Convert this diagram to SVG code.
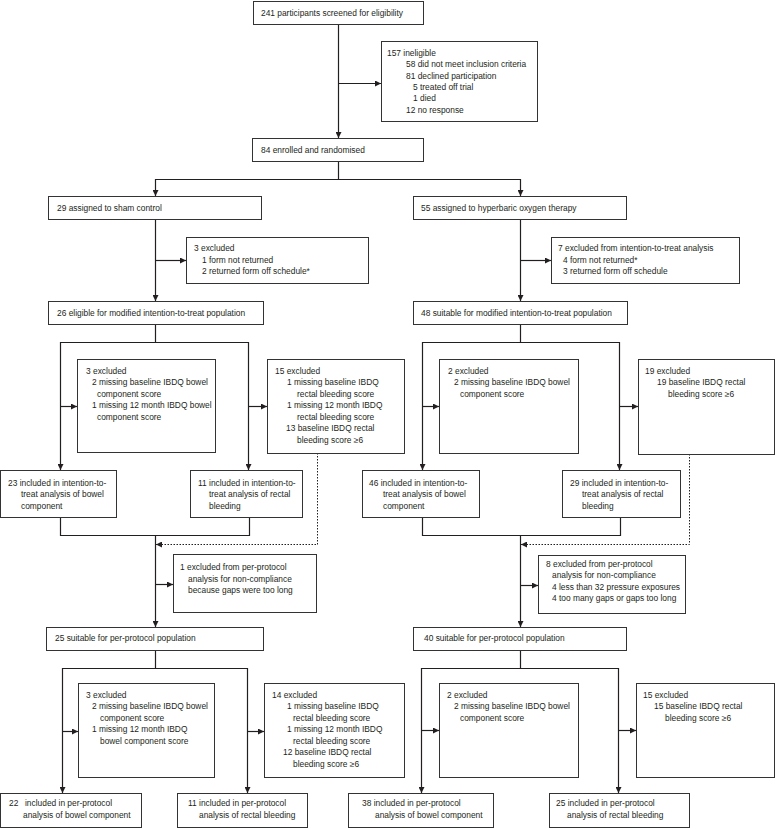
<svg xmlns="http://www.w3.org/2000/svg" width="776" height="829" viewBox="0 0 776 829">
<defs>
<marker id="ah" viewBox="0 0 6 6" refX="6" refY="3" markerWidth="6" markerHeight="6" markerUnits="userSpaceOnUse" orient="auto">
<path d="M0,0 L6,3 L0,6 z" fill="#231f20"/>
</marker>
<style>
.box{fill:#fff;stroke:#333;stroke-width:1}
.t{font-family:"Liberation Sans",Arial,sans-serif;font-size:8.4px;fill:#231f20}
.c{fill:none;stroke:#231f20;stroke-width:1.2}
.a{marker-end:url(#ah)}
.d{stroke-dasharray:1.5 1.5;stroke-width:1}
</style>
</defs>
<rect width="776" height="829" fill="#fff"/>

<g id="connectors">
<path class="c a" d="M338.5,24 V138"/>
<path class="c a" d="M338.5,83.5 H381"/>
<path class="c a" d="M338.5,162 V179.5 H155.5 V196"/>
<path class="c a" d="M338.5,179.5 H520.5 V196"/>
<path class="c a" d="M155.5,220 V301"/>
<path class="c a" d="M155.5,260.5 H186"/>
<path class="c a" d="M520.5,220 V301"/>
<path class="c a" d="M520.5,260.5 H551"/>
<path class="c a" d="M155.5,325 V342.5 H60.5 V470"/>
<path class="c a" d="M155.5,342.5 H248.5 V470"/>
<path class="c a" d="M60.5,406.5 H77"/>
<path class="c a" d="M248.5,406.5 H267"/>
<path class="c a" d="M520.5,325 V342.5 H422.5 V470"/>
<path class="c a" d="M520.5,342.5 H619.5 V470"/>
<path class="c a" d="M422.5,406.5 H439"/>
<path class="c a" d="M619.5,406.5 H638"/>
<path class="c" d="M60.5,518 V535.5 H249.5 V518"/>
<path class="c a" d="M155.5,535.5 V627"/>
<path class="c a" d="M155.5,584.5 H173"/>
<path class="c d a" d="M317.5,453 V544.5 H156"/>
<path class="c" d="M422.5,518 V535.5 H620.5 V518"/>
<path class="c a" d="M520.5,535.5 V627"/>
<path class="c a" d="M520.5,585.5 H538"/>
<path class="c d a" d="M689.5,454 V544.5 H521"/>
<path class="c a" d="M155.5,651 V668.5 H62.5 V793"/>
<path class="c a" d="M155.5,668.5 H247.5 V793"/>
<path class="c a" d="M62.5,731.5 H78"/>
<path class="c a" d="M247.5,731.5 H264"/>
<path class="c a" d="M520.5,651 V668.5 H421.5 V793"/>
<path class="c a" d="M520.5,668.5 H618.5 V793"/>
<path class="c a" d="M421.5,730.5 H439"/>
<path class="c a" d="M618.5,730.5 H636"/>
</g>

<g id="n1"><rect class="box" x="253.5" y="1.5" width="170" height="23"/>
<text class="t" x="261" y="15.5">241 participants screened for eligibility</text></g>

<g id="n2"><rect class="box" x="381.5" y="41.5" width="156" height="80"/>
<text class="t" x="387" y="56">157 ineligible</text>
<text class="t" x="406" y="67.3">58 did not meet inclusion criteria</text>
<text class="t" x="406" y="78.6">81 declined participation</text>
<text class="t" x="413" y="89.9">5 treated off trial</text>
<text class="t" x="413" y="101.2">1 died</text>
<text class="t" x="406" y="112.5">12 no response</text></g>

<g id="n3"><rect class="box" x="252.5" y="138.5" width="171" height="23"/>
<text class="t" x="261" y="153">84 enrolled and randomised</text></g>

<g id="n4"><rect class="box" x="48.5" y="196.5" width="213" height="23"/>
<text class="t" x="57" y="211">29 assigned to sham control</text></g>

<g id="n5"><rect class="box" x="413.5" y="196.5" width="213" height="23"/>
<text class="t" x="421" y="211">55 assigned to hyperbaric oxygen therapy</text></g>

<g id="n6"><rect class="box" x="186.5" y="237.5" width="182" height="46"/>
<text class="t" x="194" y="251">3 excluded</text>
<text class="t" x="202" y="262.5">1 form not returned</text>
<text class="t" x="202" y="274">2 returned form off schedule*</text></g>

<g id="n7"><rect class="box" x="551.5" y="237.5" width="188" height="46"/>
<text class="t" x="558" y="251">7 excluded from intention-to-treat analysis</text>
<text class="t" x="563" y="262.5">4 form not returned*</text>
<text class="t" x="563" y="274">3 returned form off schedule</text></g>

<g id="n8"><rect class="box" x="48.5" y="301.5" width="215" height="23"/>
<text class="t" x="57" y="316">26 eligible for modified intention-to-treat population</text></g>

<g id="n9"><rect class="box" x="413.5" y="301.5" width="214" height="23"/>
<text class="t" x="421" y="316">48 suitable for modified intention-to-treat population</text></g>

<g id="n10"><rect class="box" x="77.5" y="359.5" width="138" height="93"/>
<text class="t" x="86" y="373.5">3 excluded</text>
<text class="t" x="92" y="385">2 missing baseline IBDQ bowel</text>
<text class="t" x="97" y="396.5">component score</text>
<text class="t" x="92" y="408">1 missing 12 month IBDQ bowel</text>
<text class="t" x="97" y="419.5">component score</text></g>

<g id="n11"><rect class="box" x="267.5" y="359.5" width="137" height="94"/>
<text class="t" x="275" y="373.5">15 excluded</text>
<text class="t" x="287" y="385">1 missing baseline IBDQ</text>
<text class="t" x="297" y="396.5">rectal bleeding score</text>
<text class="t" x="287" y="408">1 missing 12 month IBDQ</text>
<text class="t" x="297" y="419.5">rectal bleeding score</text>
<text class="t" x="286" y="431">13 baseline IBDQ rectal</text>
<text class="t" x="297" y="442.5">bleeding score ≥6</text></g>

<g id="n12"><rect class="box" x="439.5" y="359.5" width="139" height="94"/>
<text class="t" x="448" y="373.5">2 excluded</text>
<text class="t" x="454" y="385">2 missing baseline IBDQ bowel</text>
<text class="t" x="460" y="396.5">component score</text></g>

<g id="n13"><rect class="box" x="638.5" y="359.5" width="136" height="95"/>
<text class="t" x="645" y="373.5">19 excluded</text>
<text class="t" x="657" y="385">19 baseline IBDQ rectal</text>
<text class="t" x="668" y="396.5">bleeding score ≥6</text></g>

<g id="n14"><rect class="box" x="0.5" y="470.5" width="116" height="47"/>
<text class="t" x="8" y="485.5">23 included in intention-to-</text>
<text class="t" x="21" y="497">treat analysis of bowel</text>
<text class="t" x="21" y="508.5">component</text></g>

<g id="n15"><rect class="box" x="190.5" y="470.5" width="112" height="47"/>
<text class="t" x="198" y="485.5">11 included in intention-to-</text>
<text class="t" x="209" y="497">treat analysis of rectal</text>
<text class="t" x="209" y="508.5">bleeding</text></g>

<g id="n16"><rect class="box" x="362.5" y="470.5" width="117" height="47"/>
<text class="t" x="369" y="485.5">46 included in intention-to-</text>
<text class="t" x="383" y="497">treat analysis of bowel</text>
<text class="t" x="383" y="508.5">component</text></g>

<g id="n17"><rect class="box" x="562.5" y="470.5" width="118" height="47"/>
<text class="t" x="570" y="485.5">29 included in intention-to-</text>
<text class="t" x="582" y="497">treat analysis of rectal</text>
<text class="t" x="582" y="508.5">bleeding</text></g>

<g id="n18"><rect class="box" x="173.5" y="554.5" width="143" height="58"/>
<text class="t" x="180" y="570">1 excluded from per-protocol</text>
<text class="t" x="188" y="581.5">analysis for non-compliance</text>
<text class="t" x="188" y="593">because gaps were too long</text></g>

<g id="n19"><rect class="box" x="538.5" y="555.5" width="147" height="58"/>
<text class="t" x="546" y="566.5">8 excluded from per-protocol</text>
<text class="t" x="552" y="578">analysis for non-compliance</text>
<text class="t" x="552" y="589.5">4 less than 32 pressure exposures</text>
<text class="t" x="552" y="601">4 too many gaps or gaps too long</text></g>

<g id="n20"><rect class="box" x="46.5" y="627.5" width="217" height="23"/>
<text class="t" x="55" y="641">25 suitable for per-protocol population</text></g>

<g id="n21"><rect class="box" x="413.5" y="627.5" width="213" height="23"/>
<text class="t" x="424" y="641">40 suitable for per-protocol population</text></g>

<g id="n22"><rect class="box" x="78.5" y="683.5" width="136" height="94"/>
<text class="t" x="86" y="697.5">3 excluded</text>
<text class="t" x="92" y="709">2 missing baseline IBDQ bowel</text>
<text class="t" x="100" y="720.5">component score</text>
<text class="t" x="92" y="732">1 missing 12 month IBDQ</text>
<text class="t" x="100" y="743.5">bowel component score</text></g>

<g id="n23"><rect class="box" x="264.5" y="683.5" width="140" height="94"/>
<text class="t" x="272" y="697.5">14 excluded</text>
<text class="t" x="287" y="709">1 missing baseline IBDQ</text>
<text class="t" x="293" y="720.5">rectal bleeding score</text>
<text class="t" x="287" y="732">1 missing 12 month IBDQ</text>
<text class="t" x="293" y="743.5">rectal bleeding score</text>
<text class="t" x="283" y="755">12 baseline IBDQ rectal</text>
<text class="t" x="293" y="766.5">bleeding score ≥6</text></g>

<g id="n24"><rect class="box" x="439.5" y="683.5" width="139" height="94"/>
<text class="t" x="447" y="697.5">2 excluded</text>
<text class="t" x="454" y="709">2 missing baseline IBDQ bowel</text>
<text class="t" x="460" y="720.5">component score</text></g>

<g id="n25"><rect class="box" x="636.5" y="683.5" width="138" height="94"/>
<text class="t" x="643" y="697.5">15 excluded</text>
<text class="t" x="654" y="709">15 baseline IBDQ rectal</text>
<text class="t" x="665" y="720.5">bleeding score ≥6</text></g>

<g id="n26"><rect class="box" x="0.5" y="793.5" width="141" height="34"/>
<text class="t" x="9" y="806">22 <tspan x="25">included in per-protocol</tspan></text>
<text class="t" x="23" y="817.5">analysis of bowel component</text></g>

<g id="n27"><rect class="box" x="177.5" y="793.5" width="130" height="34"/>
<text class="t" x="188" y="806">11 included in per-protocol</text>
<text class="t" x="199" y="817.5">analysis of rectal bleeding</text></g>

<g id="n28"><rect class="box" x="348.5" y="793.5" width="145" height="34"/>
<text class="t" x="362" y="806">38 included in per-protocol</text>
<text class="t" x="375" y="817.5">analysis of bowel component</text></g>

<g id="n29"><rect class="box" x="549.5" y="793.5" width="140" height="34"/>
<text class="t" x="556" y="806">25 included in per-protocol</text>
<text class="t" x="567" y="817.5">analysis of rectal bleeding</text></g>
</svg>
